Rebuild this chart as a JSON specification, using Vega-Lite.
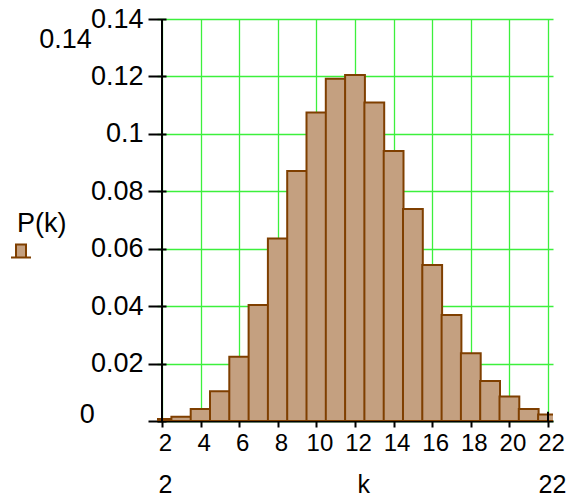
{
  "$schema": "https://vega.github.io/schema/vega-lite/v6.json",
  "width": 396,
  "height": 402,
  "autosize": "none",
  "padding": {"left": 157, "top": 19, "right": 23, "bottom": 76},
  "background": "white",
  "config": {
    "view": {"stroke": null},
    "font": "Liberation Sans",
    "axis": {"labelFont": "Liberation Sans", "labelColor": "black", "gridColor": "#3cf03c", "gridWidth": 1.3, "gridOpacity": 1, "domainColor": "black", "tickColor": "black", "tickWidth": 2, "domainWidth": 2}
  },
  "resolve": {"axis": {"x": "independent", "y": "independent"}},
  "datasets": {
    "bars": [
      {"k": 2, "p": 0.0007},
      {"k": 3, "p": 0.0015},
      {"k": 4, "p": 0.0042},
      {"k": 5, "p": 0.0104},
      {"k": 6, "p": 0.0224},
      {"k": 7, "p": 0.0404},
      {"k": 8, "p": 0.0636},
      {"k": 9, "p": 0.0871},
      {"k": 10, "p": 0.1074},
      {"k": 11, "p": 0.1192},
      {"k": 12, "p": 0.1205},
      {"k": 13, "p": 0.1109},
      {"k": 14, "p": 0.094},
      {"k": 15, "p": 0.0738},
      {"k": 16, "p": 0.0543},
      {"k": 17, "p": 0.0369},
      {"k": 18, "p": 0.0236},
      {"k": 19, "p": 0.0139},
      {"k": 20, "p": 0.0085},
      {"k": 21, "p": 0.0042},
      {"k": 22, "p": 0.0023}
    ],
    "rightLabels": [
      {"label": "0.14", "x": -1.636, "y": 0.1298},
      {"label": "0", "x": -1.485, "y": -0.0008}
    ],
    "bottomLabels": [
      {"label": "2", "x": 2.18, "y": -0.0251},
      {"label": "22", "x": 22.23, "y": -0.0251},
      {"label": "k", "x": 12.45, "y": -0.0251}
    ]
  },
  "layer": [
    {
      "data": {"name": "bars"},
      "mark": {"type": "bar", "width": 19.8, "stroke": "#7f3f00", "strokeWidth": 2, "clip": true, "opacity": 1},
      "encoding": {
        "x": {
          "field": "k", "type": "quantitative",
          "scale": {"domain": [2, 22], "nice": false, "zero": false},
          "axis": {"orient": "bottom", "values": [2, 4, 6, 8, 10, 12, 14, 16, 18, 20, 22], "tickSize": 6, "labelFontSize": 24, "labelPadding": 4, "labelOffset": 3, "title": null, "grid": true, "labelFlush": false, "labelOverlap": false, "labelBound": false}
        },
        "y": {
          "field": "p", "type": "quantitative",
          "scale": {"domain": [0, 0.14], "nice": false},
          "axis": {"orient": "left", "values": [0, 0.02, 0.04, 0.06, 0.08, 0.1, 0.12, 0.14], "offset": -9, "tickSize": 18, "domain": false, "labelFontSize": 27, "labelPadding": 5, "labelExpr": "datum.value == 0 ? '' : format(datum.value, '~g')", "title": null, "grid": true, "labelFlush": false, "labelOverlap": false, "labelBound": false}
        },
        "color": {
          "datum": "P(k)",
          "scale": {"range": ["#c4a080"]},
          "legend": {
            "orient": "none", "legendX": -140, "legendY": 192,
            "title": "P(k)", "titleFontSize": 27, "titleFontWeight": "normal", "titleColor": "black", "titleFont": "Liberation Sans", "titlePadding": 2,
            "labelExpr": "''", "padding": 0,
            "symbolType": "M-0.5,0.65V-0.65H0.5V0.65ZM-1,0.65H1", "symbolSize": 400,
            "symbolStrokeColor": "#7f3f00", "symbolStrokeWidth": 2, "symbolOpacity": 1, "symbolOffset": -7
          }
        }
      }
    },
    {
      "data": {"values": [{}]},
      "mark": {"type": "rule", "color": "black", "strokeWidth": 2},
      "encoding": {"x": {"datum": 2, "axis": null}, "y": {"datum": 0, "axis": null}, "y2": {"datum": 0.14}}
    },
    {
      "data": {"values": [{}]},
      "mark": {"type": "rule", "color": "black", "strokeWidth": 2},
      "encoding": {"x": {"datum": 22, "axis": null}, "y": {"datum": 0, "axis": null}, "y2": {"datum": 0.0032}}
    },
    {
      "data": {"name": "rightLabels"},
      "mark": {"type": "text", "align": "right", "baseline": "alphabetic", "fontSize": 27, "font": "Liberation Sans", "color": "black", "clip": false},
      "encoding": {
        "x": {"field": "x", "type": "quantitative", "axis": null},
        "y": {"field": "y", "type": "quantitative", "axis": null},
        "text": {"field": "label"}
      }
    },
    {
      "data": {"name": "bottomLabels"},
      "mark": {"type": "text", "align": "center", "baseline": "alphabetic", "fontSize": 25, "font": "Liberation Sans", "color": "black", "clip": false},
      "encoding": {
        "x": {"field": "x", "type": "quantitative", "axis": null},
        "y": {"field": "y", "type": "quantitative", "axis": null},
        "text": {"field": "label"}
      }
    }
  ]
}
